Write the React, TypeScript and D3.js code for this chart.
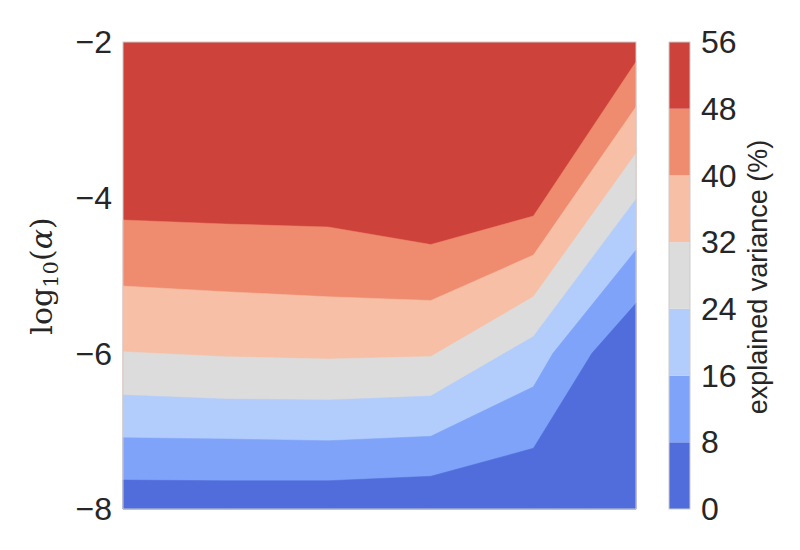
import * as d3 from "d3";
import { useEffect, useRef } from "react";

// contour levels (explained variance, %) and the coolwarm fill of each band
const levels = [0, 8, 16, 24, 32, 40, 48, 56];
const bandColors = ["#516ddb", "#7fa3f8", "#b2cdfb", "#dddcdc", "#f6bfa6", "#ef8b6e", "#cd423b"];
const yTicks = [-2, -4, -6, -8];

// level boundaries: [column index, log10(alpha)]
const b8 = [[0, -7.628], [1, -7.637], [2, -7.637], [3, -7.58], [4, -7.22], [4.57, -6.0], [5, -5.357]];
const b16 = [[0, -7.084], [1, -7.101], [2, -7.123], [3, -7.066], [4, -6.429], [4.19, -6.0], [5, -4.673]];
const b24 = [[0, -6.535], [1, -6.587], [2, -6.6], [3, -6.548], [4, -5.784], [5, -4.02]];
const b32 = [[0, -5.979], [1, -6.043], [2, -6.073], [3, -6.041], [4, -5.273], [5, -3.43]];
const b40 = [[0, -5.135], [1, -5.208], [2, -5.273], [3, -5.321], [4, -4.737], [5, -2.831]];
const b48 = [[0, -4.287], [1, -4.338], [2, -4.377], [3, -4.602], [4, -4.236], [5, -2.253]];
const boundaries = [b8, b16, b24, b32, b40, b48];

const left = 123, right = 636, top = 42, bottom = 509;
const cbLeft = 669, cbRight = 690;
const font = "'Liberation Sans', Arial, sans-serif";

function App() {
  const svgRef = useRef<SVGSVGElement>(null);

  useEffect(() => {
    const svg = d3.select(svgRef.current);
    svg.selectAll("*").remove();

    const x = d3.scaleLinear().domain([0, 5]).range([left, right]);
    const y = d3.scaleLinear().domain([-8, -2]).range([bottom, top]);

    const plot = svg.append("g");
    // top band fills everything, lower bands are painted over it
    plot.append("rect")
      .attr("x", left).attr("y", top)
      .attr("width", right - left).attr("height", bottom - top)
      .attr("fill", bandColors[6]);

    const area = d3.area<number[]>()
      .x((d) => x(d[0]))
      .y0(y(-8))
      .y1((d) => y(d[1]));

    for (let i = boundaries.length - 1; i >= 0; i--) {
      plot.append("path")
        .attr("d", area(boundaries[i]))
        .attr("fill", bandColors[i])
        .attr("stroke", bandColors[i])
        .attr("stroke-width", 0.5);
    }

    plot.append("rect")
      .attr("x", left).attr("y", top)
      .attr("width", right - left).attr("height", bottom - top)
      .attr("fill", "none").attr("stroke", "#cccccc").attr("stroke-width", 1);

    svg.append("g")
      .selectAll("text")
      .data(yTicks)
      .join("text")
      .attr("x", left - 11)
      .attr("y", (d) => y(d))
      .attr("dy", "0.35em")
      .attr("text-anchor", "end")
      .attr("font-family", font)
      .attr("font-size", 32)
      .attr("fill", "#262626")
      .text((d) => "\u2212" + Math.abs(d));

    // y label: log10(alpha)
    const ylab = svg.append("text")
      .attr("transform", "translate(52,276) rotate(-90)")
      .attr("text-anchor", "middle")
      .attr("font-family", "'DejaVu Serif', serif")
      .attr("font-size", 30)
      .attr("fill", "#262626");
    ylab.append("tspan").text("log");
    ylab.append("tspan").attr("font-size", 21).attr("dy", 6).text("10");
    ylab.append("tspan").attr("dy", -6).text("(");
    ylab.append("tspan").attr("font-style", "italic").text("\u03b1");
    ylab.append("tspan").text(")");

    // colorbar
    const c = d3.scaleLinear().domain([0, 56]).range([bottom, top]);
    const cb = svg.append("g");
    cb.selectAll("rect")
      .data(d3.range(bandColors.length))
      .join("rect")
      .attr("x", cbLeft)
      .attr("y", (i) => c(levels[i + 1]))
      .attr("width", cbRight - cbLeft)
      .attr("height", (i) => c(levels[i]) - c(levels[i + 1]))
      .attr("fill", (i) => bandColors[i]);
    cb.append("rect")
      .attr("x", cbLeft).attr("y", top)
      .attr("width", cbRight - cbLeft).attr("height", bottom - top)
      .attr("fill", "none").attr("stroke", "#cccccc");

    cb.selectAll("text.tick")
      .data(levels)
      .join("text")
      .attr("class", "tick")
      .attr("x", cbRight + 11)
      .attr("y", (d) => c(d))
      .attr("dy", "0.35em")
      .attr("font-family", font)
      .attr("font-size", 32)
      .attr("fill", "#262626")
      .text((d) => d);

    svg.append("text")
      .attr("transform", "translate(767,277) rotate(-90)")
      .attr("text-anchor", "middle")
      .attr("font-family", font)
      .attr("font-size", 27)
      .attr("fill", "#262626")
      .text("explained variance (%)");
  }, []);

  return (
    <svg
      ref={svgRef}
      width={800}
      height={550}
      style={{ position: "absolute", left: 0, top: 0, background: "#fff" }}
    />
  );
}

export default App;
